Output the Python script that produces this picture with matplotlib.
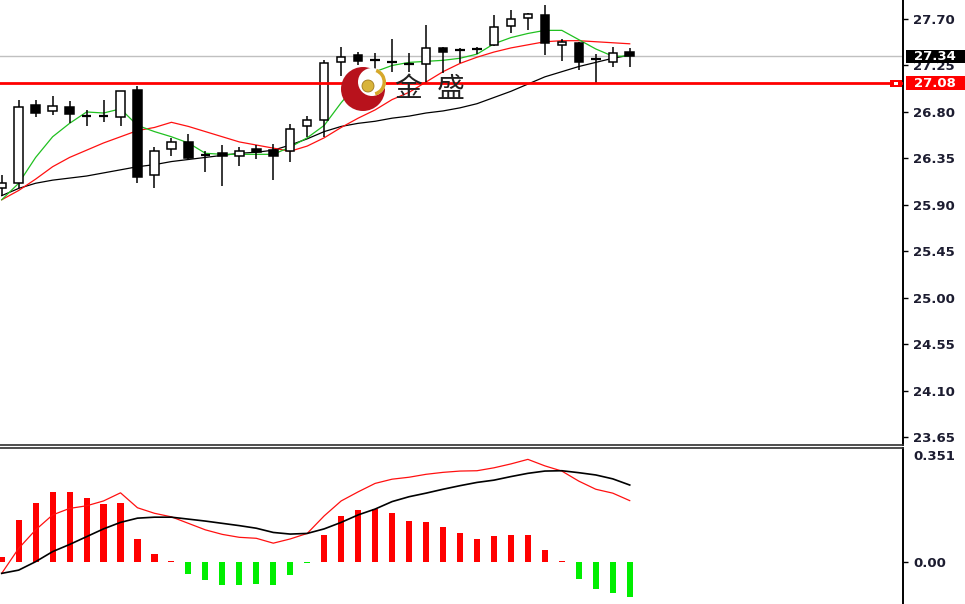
import matplotlib
matplotlib.use('Agg')
import matplotlib.pyplot as plt
from matplotlib.patches import Circle, Wedge, Rectangle
import numpy as np

# candles
opens = [26.06, 26.11, 26.87, 26.81, 26.85, 26.76, 26.76, 26.75, 27.01, 26.19,
         26.44, 26.51, 26.38, 26.40, 26.37, 26.44, 26.43, 26.42, 26.66, 26.72,
         27.28, 27.35, 27.30, 27.28, 27.26, 27.26, 27.42, 27.40, 27.41, 27.45,
         27.63, 27.71, 27.74, 27.45, 27.47, 27.31, 27.28, 27.38]
highs = [26.19, 26.92, 26.92, 26.95, 26.91, 26.82, 26.92, 27.00, 27.05, 26.46,
         26.55, 26.59, 26.42, 26.48, 26.46, 26.48, 26.49, 26.68, 26.76, 27.30,
         27.43, 27.38, 27.37, 27.51, 27.37, 27.64, 27.43, 27.42, 27.43, 27.74,
         27.79, 27.76, 27.84, 27.51, 27.48, 27.36, 27.43, 27.42]
lows = [25.99, 26.06, 26.75, 26.77, 26.69, 26.66, 26.70, 26.66, 26.11, 26.06,
        26.37, 26.34, 26.22, 26.08, 26.28, 26.34, 26.14, 26.32, 26.56, 26.56,
        27.15, 27.25, 27.20, 27.19, 27.19, 27.08, 27.18, 27.27, 27.36, 27.44,
        27.56, 27.59, 27.35, 27.29, 27.21, 27.08, 27.24, 27.24]
closes = [26.11, 26.85, 26.79, 26.86, 26.78, 26.76, 26.76, 27.00, 26.17, 26.42,
          26.51, 26.35, 26.38, 26.37, 26.42, 26.41, 26.37, 26.64, 26.72, 27.27,
          27.33, 27.29, 27.30, 27.28, 27.26, 27.42, 27.38, 27.40, 27.41, 27.62,
          27.70, 27.75, 27.47, 27.48, 27.28, 27.31, 27.37, 27.34]

# moving averages
ma_green = [25.95, 26.11, 26.36, 26.56, 26.69, 26.80, 26.79, 26.83, 26.67, 26.61,
            26.56, 26.50, 26.40, 26.39, 26.39, 26.39, 26.39, 26.46, 26.55, 26.67,
            26.89, 27.08, 27.19, 27.25, 27.28, 27.29, 27.30, 27.32, 27.36, 27.46,
            27.52, 27.56, 27.59, 27.59, 27.50, 27.41, 27.34, 27.34]
ma_red = [25.95, 26.04, 26.15, 26.27, 26.36, 26.43, 26.50, 26.56, 26.62, 26.65,
          26.70, 26.66, 26.61, 26.56, 26.51, 26.48, 26.45, 26.42, 26.47, 26.55,
          26.65, 26.74, 26.82, 26.92, 26.99, 27.09, 27.19, 27.27, 27.33, 27.38,
          27.42, 27.45, 27.48, 27.49, 27.49, 27.48, 27.47, 27.46]
ma_black = [25.99, 26.06, 26.11, 26.14, 26.16, 26.18, 26.21, 26.24, 26.27, 26.29,
            26.32, 26.34, 26.36, 26.38, 26.40, 26.41, 26.43, 26.48, 26.54, 26.61,
            26.66, 26.69, 26.71, 26.74, 26.76, 26.79, 26.81, 26.84, 26.88, 26.94,
            27.00, 27.07, 27.14, 27.19, 27.24, 27.28, 27.32, 27.35]

# MACD panel
macd_hist = [0.015, 0.128, 0.182, 0.214, 0.214, 0.198, 0.178, 0.182, 0.070, 0.026,
             0.004, -0.036, -0.056, -0.072, -0.072, -0.067, -0.072, -0.039, -0.004, 0.084,
             0.141, 0.161, 0.164, 0.152, 0.127, 0.123, 0.108, 0.090, 0.070, 0.079,
             0.082, 0.082, 0.037, 0.003, -0.051, -0.084, -0.095, -0.109]
macd_red = [-0.035, 0.042, 0.099, 0.145, 0.165, 0.173, 0.188, 0.213, 0.167, 0.150,
            0.139, 0.119, 0.099, 0.085, 0.076, 0.073, 0.058, 0.071, 0.088, 0.142,
            0.188, 0.216, 0.242, 0.255, 0.261, 0.270, 0.276, 0.280, 0.281, 0.290,
            0.302, 0.316, 0.296, 0.280, 0.249, 0.224, 0.212, 0.189]
macd_black = [-0.035, -0.025, 0.001, 0.032, 0.054, 0.078, 0.102, 0.122, 0.135, 0.138,
              0.138, 0.132, 0.126, 0.119, 0.112, 0.104, 0.091, 0.086, 0.088, 0.102,
              0.122, 0.145, 0.163, 0.186, 0.201, 0.212, 0.224, 0.235, 0.245, 0.252,
              0.263, 0.273, 0.280, 0.281, 0.275, 0.268, 0.256, 0.237]

price_ticks = [27.70, 27.25, 26.80, 26.35, 25.90, 25.45, 25.00, 24.55, 24.10, 23.65]
last_price = 27.34
level_price = 27.08
macd_top = 0.351

W, H = 965, 604
fig = plt.figure(figsize=(W / 100, H / 100), dpi=100)


def box(x0, y0, x1, y1):
    return [x0 / W, 1 - y1 / H, (x1 - x0) / W, (y1 - y0) / H]


ax = fig.add_axes(box(0, 0, 903, 445))
ax2 = fig.add_axes(box(0, 448, 903, 604))

x = np.arange(len(opens))
o = np.array(opens)
c = np.array(closes)

ax.axhline(last_price, color='#c0c0c0', lw=1, zorder=1)
ax.plot(x, ma_black, color='black', lw=0.9, zorder=2)
ax.plot(x, ma_red, color='#ff1010', lw=0.9, zorder=2)
ax.plot(x, ma_green, color='#20c020', lw=0.9, zorder=2)

ax.vlines(x, lows, highs, color='black', lw=1.1, zorder=3)
doji = np.abs(c - o) < 0.006
faces = ['white' if cc >= oo else 'black' for oo, cc in zip(o, c)]
ax.bar(x[~doji], (c - o)[~doji], bottom=o[~doji], width=0.5,
       color=[f for f, d in zip(faces, doji) if not d], edgecolor='black', lw=1.1, zorder=4)
ax.hlines(c[doji], x[doji] - 0.28, x[doji] + 0.28, color='black', lw=1.6, zorder=4)

ax.axhline(level_price, color='#ff0000', lw=2, zorder=5)

ax.set_xlim(-0.1, 53.1)
ax.set_ylim(23.576, 27.884)
ax.set_xticks([])
ax.yaxis.tick_right()
ax.set_yticks(price_ticks)
ax.set_yticklabels(['%.2f' % t for t in price_ticks])
ax.tick_params(axis='y', direction='out', length=3.5, width=1, pad=4,
               labelsize=9.5, color='black', labelcolor='#1c1c30')
for lab in ax.get_yticklabels():
    lab.set_fontweight('bold')
for s in ['top', 'left']:
    ax.spines[s].set_visible(False)
ax.spines['right'].set_linewidth(1.4)
ax.spines['bottom'].set_color('#303030')
ax.spines['bottom'].set_linewidth(1.2)

# MACD
hcol = ['#ff0000' if v >= 0 else '#00ee00' for v in macd_hist]
ax2.bar(x, macd_hist, width=0.36, color=hcol, zorder=2)
ax2.plot(x, macd_red, color='#ff1010', lw=0.9, zorder=3)
ax2.plot(x, macd_black, color='black', lw=1.2, zorder=3)
ax2.set_xlim(-0.1, 53.1)
ax2.set_ylim(-0.1293, macd_top)
ax2.set_xticks([])
ax2.yaxis.tick_right()
ax2.set_yticks([0.0])
ax2.set_yticklabels(['0.00'])
ax2.tick_params(axis='y', direction='out', length=3.5, width=1, pad=4,
                labelsize=9.5, color='black', labelcolor='#1c1c30')
for lab in ax2.get_yticklabels():
    lab.set_fontweight('bold')
for s in ['bottom', 'left']:
    ax2.spines[s].set_visible(False)
ax2.spines['right'].set_linewidth(1.4)
ax2.spines['top'].set_color('#303030')
ax2.spines['top'].set_linewidth(1.2)

# overlay in pixel coordinates for logo and price tags
ov = fig.add_axes([0, 0, 1, 1])
ov.set_xlim(0, W)
ov.set_ylim(H, 0)
ov.axis('off')
ov.patch.set_alpha(0)

fig.canvas.draw()


def ypix(p):
    return H - ax.transData.transform((0, p))[1]


yl = ypix(last_price)
ov.add_patch(Rectangle((906, yl - 6.5), 59, 13, fc='black', ec='none', zorder=5))
ov.text(914, yl, '%.2f' % last_price, color='white', fontsize=9.5, fontweight='bold',
        ha='left', va='center', zorder=6)
yr = ypix(level_price)
ov.add_patch(Rectangle((906, yr - 7), 59, 14, fc='#ff0000', ec='none', zorder=5))
ov.text(914, yr, '%.2f' % level_price, color='white', fontsize=9.5, fontweight='bold',
        ha='left', va='center', zorder=6)
ov.add_patch(Rectangle((890, yr - 3.5), 12, 7, fc='#ff0000', ec='none', zorder=5))
ov.add_patch(Rectangle((894, yr - 1.5), 4, 3, fc='white', ec='none', zorder=6))
ov.text(913, 456, '%.3f' % macd_top, color='#1c1c30', fontsize=9.5, fontweight='bold',
        ha='left', va='center')

# logo
ov.add_patch(Circle((363, 89), 22, fc='#b8121c', ec='none', zorder=3))
ov.add_patch(Circle((372, 82), 14, fc='white', ec='none', zorder=4))
ov.add_patch(Wedge((372, 82), 14, -70, 75, width=3.5, fc='#d6a82a', ec='none', zorder=5))
ov.add_patch(Circle((368, 86), 6, fc='#d8b43a', ec='#a07818', lw=0.6, zorder=6))
for ch, cx in [('金', 408), ('盛', 451)]:
    ov.text(cx, 89, ch, fontsize=20, family=['Noto Sans CJK SC', 'DejaVu Sans'],
            color='#222222', ha='center', va='center', zorder=6)

fig.savefig('out.png', dpi=100)
